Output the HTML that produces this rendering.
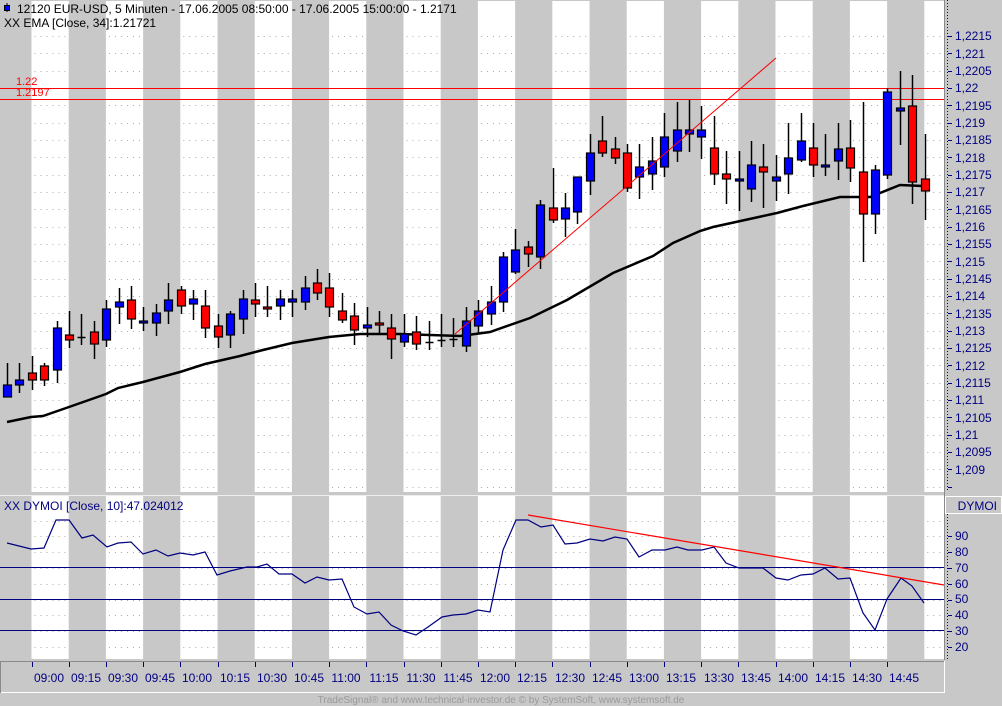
<!DOCTYPE html>
<html><head><meta charset="utf-8"><style>
html,body{margin:0;padding:0;background:#c8c8c8;}
svg{display:block;font-family:"Liberation Sans",sans-serif;}
</style></head><body>
<svg id="s" width="1002" height="706" xmlns="http://www.w3.org/2000/svg">
<rect x="0" y="0" width="1002" height="706" fill="#c8c8c8"/>
<g id="stripes"></g>
<g id="grid"></g>
<rect x="0" y="492" width="945" height="4" fill="#c8c8c8"/>
<line x1="0" y1="495.5" x2="1002" y2="495.5" stroke="#eeeeee" stroke-width="1"/>
<rect x="945" y="0" width="57" height="706" fill="#c8c8c8"/>
<line x1="944.5" y1="0" x2="944.5" y2="693" stroke="#8a8a8a"/>
<line x1="947.5" y1="0" x2="947.5" y2="492" stroke="#000080" stroke-dasharray="1,2"/>
<line x1="947.5" y1="514" x2="947.5" y2="659" stroke="#000080" stroke-dasharray="1,2"/>
<rect x="945.5" y="496.5" width="56" height="17" fill="none" stroke="#ffffff"/>
<text x="997" y="510" font-size="12" fill="#000080" text-anchor="end">DYMOI</text>
<g id="pticks" font-size="12" fill="#000080"></g>
<g font-size="12" fill="#000080">
<text x="955" y="40">1,2215</text><text x="955" y="58">1,221</text><text x="955" y="75">1,2205</text><text x="955" y="92">1,22</text><text x="955" y="110">1,2195</text><text x="955" y="127">1,219</text><text x="955" y="144">1,2185</text><text x="955" y="162">1,218</text><text x="955" y="179">1,2175</text><text x="955" y="196">1,217</text><text x="955" y="214">1,2165</text><text x="955" y="231">1,216</text><text x="955" y="248">1,2155</text><text x="955" y="266">1,215</text><text x="955" y="283">1,2145</text><text x="955" y="300">1,214</text><text x="955" y="318">1,2135</text><text x="955" y="335">1,213</text><text x="955" y="352">1,2125</text><text x="955" y="370">1,212</text><text x="955" y="387">1,2115</text><text x="955" y="404">1,211</text><text x="955" y="422">1,2105</text><text x="955" y="439">1,21</text><text x="955" y="456">1,2095</text><text x="955" y="474">1,209</text>
<text x="955" y="540">90</text><text x="955" y="556">80</text><text x="955" y="572">70</text><text x="955" y="588">60</text><text x="955" y="603">50</text><text x="955" y="619">40</text><text x="955" y="635">30</text><text x="955" y="651">20</text>
</g>
<rect x="0" y="660" width="945" height="33" fill="#c8c8c8"/>
<line x1="0" y1="661.5" x2="944" y2="661.5" stroke="#8a8a8a"/>
<line x1="0" y1="692.5" x2="945" y2="692.5" stroke="#ffffff"/>
<line x1="944.5" y1="661" x2="944.5" y2="693" stroke="#ffffff"/>
<line x1="0.5" y1="661" x2="0.5" y2="693" stroke="#8a8a8a"/>
<g id="tticks"></g>
<g font-size="12" fill="#000080" text-anchor="middle">
<text x="49" y="682">09:00</text><text x="86" y="682">09:15</text><text x="123" y="682">09:30</text><text x="160" y="682">09:45</text><text x="197" y="682">10:00</text><text x="235" y="682">10:15</text><text x="272" y="682">10:30</text><text x="309" y="682">10:45</text><text x="346" y="682">11:00</text><text x="384" y="682">11:15</text><text x="421" y="682">11:30</text><text x="458" y="682">11:45</text><text x="495" y="682">12:00</text><text x="532" y="682">12:15</text><text x="570" y="682">12:30</text><text x="607" y="682">12:45</text><text x="644" y="682">13:00</text><text x="681" y="682">13:15</text><text x="719" y="682">13:30</text><text x="756" y="682">13:45</text><text x="793" y="682">14:00</text><text x="830" y="682">14:15</text><text x="867" y="682">14:30</text><text x="904" y="682">14:45</text>
</g>
<text x="501" y="703" font-size="10" fill="#9a9a9a" text-anchor="middle">TradeSignal® and www.technical-investor.de © by SystemSoft, www.systemsoft.de</text>
<line x1="0" y1="88.5" x2="944" y2="88.5" stroke="#ff0000"/>
<line x1="0" y1="99.5" x2="944" y2="99.5" stroke="#ff0000"/>
<text x="16" y="85" font-size="11" fill="#ff0000">1.22</text>
<text x="16" y="96" font-size="11" fill="#ff0000">1.2197</text>
<polyline fill="none" stroke="#000" stroke-width="2.5" points="7,422 31,417 43,416 69,407 106,394 118,388 143,382 180,372 205,364 240,356 263,350 292,343 329,337 360,334 400,334 460,336 490,332 530,318 567,300 613,273 653,256 673,243 700,231 713,227 777,213 803,206 840,197 870,197 900,185 923,186"/>
<g id="candles"></g>
<line x1="455" y1="334" x2="776" y2="58" stroke="#ff0000" stroke-width="1"/>
<line x1="0" y1="567.5" x2="944" y2="567.5" stroke="#000080"/>
<line x1="0" y1="599.5" x2="944" y2="599.5" stroke="#000080"/>
<line x1="0" y1="630.5" x2="944" y2="630.5" stroke="#000080"/>
<polyline fill="none" stroke="#000080" stroke-width="1.2" points="7,543 31,549 44,548 56,520 69,520 82,538 93,535 107,547 118,543 131,542 143,554 156,550 168,556 180,553 193,555 205,552 217,575 230,571 247,567 257,567 267,564 279,574 292,574 305,583 317,577 329,580 342,579 354,607 367,614 379,612 391,625 403,631 416,635 428,627 442,617 453,615 466,614 478,610 490,612 503,550 516,520 528,520 541,527 553,525 565,544 577,543 590,539 603,541 615,537 627,539 639,557 652,550 665,550 677,547 688,550 702,550 714,547 726,563 739,568 763,568 776,578 788,580 801,575 813,574 825,568 838,579 850,578 863,613 875,630 887,599 901,578 912,586 924,603"/>
<line x1="528" y1="515" x2="944" y2="585" stroke="#ff0000" stroke-width="1.2"/>
<line x1="7" y1="3" x2="7" y2="12" stroke="#000"/>
<rect x="4.5" y="5.5" width="5" height="5" fill="#0000ff" stroke="#000"/>
<text x="17" y="13" font-size="12" fill="#000">12120  EUR-USD, 5 Minuten - 17.06.2005 08:50:00 - 17.06.2005 15:00:00 - 1.2171</text>
<text x="4" y="27" font-size="12" fill="#000">XX EMA [Close, 34]:1.21721</text>
<text x="4" y="510" font-size="12" fill="#000080">XX DYMOI [Close, 10]:47.024012</text>
</svg>
<script>
var NS="http://www.w3.org/2000/svg";
function el(p,t,a){var e=document.createElementNS(NS,t);for(var k in a)e.setAttribute(k,a[k]);document.getElementById(p).appendChild(e);return e;}
var W=[];
for(var k=0;k<24;k+=2){var x0=31.5+37.2*k,x1=Math.min(944,x0+37.2);W.push([x0,x1]);}
W.push([924.3,944]);
W.forEach(function(w){
 el("stripes","rect",{x:w[0],y:1,width:w[1]-w[0],height:491,fill:"#fff"});
 el("stripes","rect",{x:w[0],y:496,width:w[1]-w[0],height:163,fill:"#fff"});});
function hgrid(y){W.forEach(function(w){el("grid","line",{x1:w[0]+3,y1:y,x2:w[1],y2:y,stroke:"#a8a8a8","stroke-dasharray":"1,5"});});}
for(var i=0;i<27;i++){var y=Math.round(36+i*17.333)+0.5;hgrid(y);
 el("pticks","line",{x1:948,y1:y,x2:952,y2:y,stroke:"#000080"});}
for(var v=20;v<=100;v+=10){var y=Math.round(568-(v-70)*1.58)+0.5;hgrid(y);
 if(v<100)el("pticks","line",{x1:948,y1:y,x2:952,y2:y,stroke:"#000080"});}
for(var k=0;k<24;k++){var x=Math.round(31.5+37.2*k)+0.5;el("tticks","line",{x1:x,y1:662,x2:x,y2:667,stroke:"#000080"});}
var C=[[363,385,397,397,"b"],[363,380,385,393,"b"],[356,373,380,390,"r"],[363,366,380,386,"r"],[321,328,370,383,"b"],[311,335,340,348,"r"],[314,337,337,345,"k"],[321,332,344,359,"r"],[300,309,340,347,"b"],[288,302,307,324,"b"],[286,300,319,329,"r"],[307,321,323,331,"b"],[304,313,323,336,"b"],[283,300,311,324,"b"],[286,290,306,314,"r"],[290,299,304,320,"b"],[290,306,328,338,"r"],[314,326,337,348,"r"],[311,314,335,348,"b"],[290,299,319,334,"b"],[283,300,304,317,"r"],[286,307,309,317,"r"],[290,299,306,320,"b"],[290,299,302,317,"b"],[276,288,302,310,"b"],[269,283,293,300,"r"],[273,288,307,317,"r"],[293,311,320,323,"r"],[303,316,330,345,"r"],[307,325,328,337,"b"],[311,323,325,335,"r"],[314,328,339,359,"r"],[314,334,342,347,"b"],[316,332,344,350,"r"],[321,342,342,350,"k"],[314,340,340,347,"k"],[318,339,340,347,"k"],[307,321,346,352,"b"],[300,311,326,333,"b"],[286,302,314,325,"b"],[252,257,302,312,"b"],[229,250,272,274,"b"],[241,247,254,267,"r"],[200,205,257,269,"b"],[168,208,220,223,"r"],[193,208,219,237,"b"],[177,177,212,224,"b"],[134,153,181,195,"b"],[116,141,153,157,"r"],[137,149,158,164,"r"],[144,153,188,192,"r"],[144,167,177,199,"b"],[137,161,174,190,"b"],[113,137,167,177,"b"],[102,130,151,162,"b"],[100,130,134,152,"b"],[106,130,137,159,"b"],[116,148,174,185,"r"],[151,174,179,204,"r"],[151,179,181,211,"b"],[141,165,189,202,"b"],[144,167,172,208,"r"],[155,177,181,201,"b"],[123,158,174,194,"b"],[113,141,160,162,"b"],[123,148,165,177,"r"],[134,165,167,176,"b"],[123,149,161,180,"b"],[120,148,168,182,"r"],[102,172,214,262,"r"],[165,170,214,234,"b"],[88,92,175,179,"b"],[71,108,111,145,"b"],[75,106,182,204,"r"],[134,179,191,220,"r"]];
for(var i=0;i<C.length;i++){var c=C[i],x=Math.round(7+i*12.4)+0.5;
 el("candles","line",{x1:x,y1:c[0],x2:x,y2:c[3],stroke:"#000","stroke-width":1.5});
 if(c[4]=="k"){el("candles","line",{x1:x-4,y1:c[1]+0.5,x2:x+4,y2:c[1]+0.5,stroke:"#000","stroke-width":1.5});}
 else{var h=Math.max(2,c[2]-c[1]);el("candles","rect",{x:x-4,y:c[1],width:8,height:h,fill:c[4]=="b"?"#0000ff":"#ff0000",stroke:"#000","stroke-width":1.2});}}
</script>
</body></html>
